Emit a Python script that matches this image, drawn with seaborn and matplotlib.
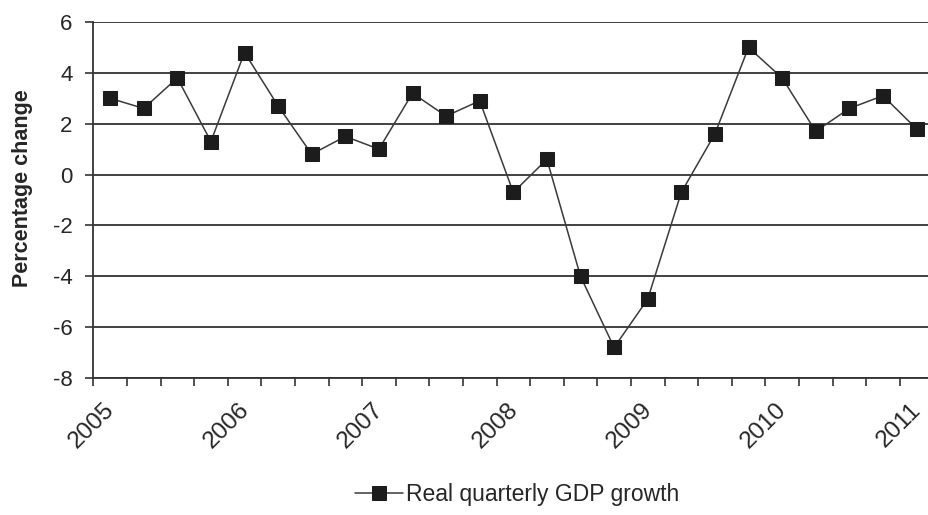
import matplotlib
matplotlib.use("Agg")
import matplotlib.pyplot as plt
from matplotlib.transforms import ScaledTranslation
import numpy as np
import pandas as pd
import seaborn as sns

# Quarterly real GDP growth, 2005 Q1 - 2011 Q1 (annualised percentage change)
years = ["2005", "2006", "2007", "2008", "2009", "2010", "2011"]
quarters = [f"{y}Q{q}" for y in years for q in range(1, 5)][:25]
growth = [3.0, 2.6, 3.8, 1.3, 4.8, 2.7, 0.8, 1.5, 1.0, 3.2, 2.3, 2.9,
          -0.7, 0.6, -4.0, -6.8, -4.9, -0.7, 1.6, 5.0, 3.8, 1.7, 2.6, 3.1, 1.8]
y_ticks = [-8, -6, -4, -2, 0, 2, 4, 6]

df = pd.DataFrame({"quarter": quarters, "growth": growth})
df["pos"] = np.arange(len(df)) + 0.5  # each quarter centred in its slot

sns.set_style("white")
plt.rcParams["font.family"] = ["Liberation Sans", "DejaVu Sans"]

ink = "#262626"
fig = plt.figure(figsize=(9.29, 5.15), dpi=100)
# axes runs slightly past the right edge of the canvas
ax = fig.add_axes([93.3 / 929, 1 - 378 / 515, 840 / 929, 356 / 515])

sns.lineplot(data=df, x="pos", y="growth", ax=ax, color="#3a3a3a", linewidth=1.1,
             marker="s", markersize=9.5, markerfacecolor="#1c1c1c",
             markeredgecolor="#1c1c1c", label="Real quarterly GDP growth")

ax.set_xlim(0, len(df))
ax.set_ylim(-8, 6)
ax.set_yticks(y_ticks)
ax.set_yticklabels([str(v) for v in y_ticks])
for v in y_ticks:
    ax.axhline(v, color="#333333", linewidth=1.3, zorder=0)

ax.set_xticks(range(len(df) + 1))
ax.set_xticklabels([years[i // 4] if i % 4 == 0 and i // 4 < len(years) else ""
                    for i in range(len(df) + 1)])

for side in ["top", "right"]:
    ax.spines[side].set_visible(False)
for side in ["left", "bottom"]:
    ax.spines[side].set_color("#333333")
    ax.spines[side].set_linewidth(1.3)

ax.tick_params(axis="y", direction="out", length=5.8, width=1.2, color="#333333",
               labelsize=16, labelcolor=ink, pad=9, left=True)
ax.tick_params(axis="x", direction="out", length=5.5, width=1.2, color="#333333",
               labelsize=17.5, labelcolor=ink, pad=15, bottom=True)
for lbl in ax.get_xticklabels():
    lbl.set_rotation(45)
    lbl.set_ha("right")
    lbl.set_va("center")
    lbl.set_rotation_mode("anchor")
    lbl.set_transform(lbl.get_transform() + ScaledTranslation(0.18, 0, fig.dpi_scale_trans))

ax.set_xlabel("")
ax.set_ylabel("Percentage change", fontsize=15.5, fontweight="bold", color=ink)
ax.yaxis.set_label_coords(-0.072, 0.532)

ax.legend(loc="center", bbox_to_anchor=(517 / 929, 1 - 495 / 515),
          bbox_transform=fig.transFigure, frameon=False, fontsize=16.5,
          handlelength=2.1, handletextpad=0.13, labelcolor=ink)

fig.savefig("out.png", dpi=100)
